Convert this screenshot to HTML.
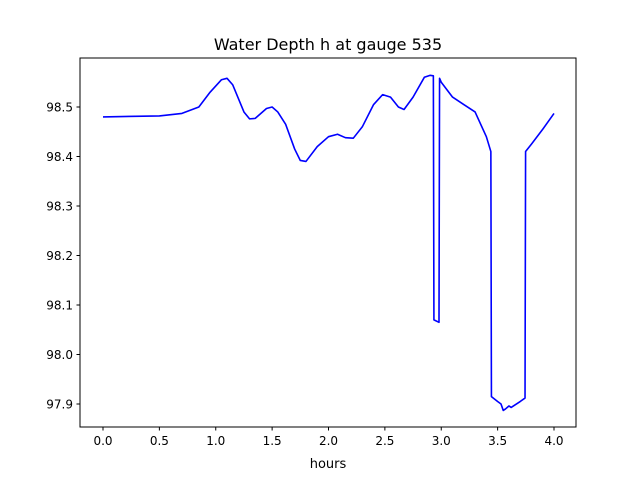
<!DOCTYPE html>
<html><head><meta charset="utf-8"><style>
body{margin:0;background:#fff;}
svg text{font-family:"DejaVu Sans","Liberation Sans",sans-serif;fill:#000;}
</style></head><body>
<svg width="640" height="480">
<rect width="640" height="480" fill="#fff"/>
<text x="328" y="50" font-size="16" text-anchor="middle">Water Depth h at gauge 535</text>
<g id="axes"></g>
<rect x="80" y="58" width="496" height="369" fill="none" stroke="#000" stroke-width="1"/>
<text x="328" y="468" font-size="13" text-anchor="middle">hours</text>
</svg>
<script>
const hours=[0,0.5,0.7,0.85,0.95,1.05,1.1,1.15,1.25,1.3,1.35,1.45,1.5,1.55,1.62,1.7,1.75,1.8,1.9,2.0,2.08,2.15,2.22,2.3,2.4,2.48,2.55,2.62,2.67,2.75,2.85,2.9,2.93,2.935,2.98,2.985,3.0,3.1,3.2,3.3,3.4,3.44,3.445,3.5,3.53,3.55,3.57,3.6,3.62,3.7,3.743,3.748,3.8,3.9,4.0];
const depth=[98.48,98.482,98.487,98.50,98.53,98.555,98.558,98.545,98.49,98.476,98.477,98.497,98.50,98.49,98.465,98.415,98.392,98.39,98.42,98.44,98.445,98.438,98.437,98.46,98.505,98.525,98.52,98.50,98.495,98.52,98.56,98.564,98.563,98.07,98.065,98.558,98.55,98.52,98.505,98.49,98.44,98.41,97.915,97.905,97.9,97.887,97.89,97.896,97.893,97.905,97.912,98.41,98.425,98.455,98.487];
const xTicks=[0,0.5,1.0,1.5,2.0,2.5,3.0,3.5,4.0];
const yTicks=[97.9,98.0,98.1,98.2,98.3,98.4,98.5];
const NS="http://www.w3.org/2000/svg";
const sx=h=>103+h*112.75;
const sy=v=>107+(98.5-v)*495;
const g=document.getElementById('axes');
function mk(t,a){const e=document.createElementNS(NS,t);for(const k in a)e.setAttribute(k,a[k]);g.appendChild(e);return e;}
xTicks.forEach(t=>{
 const l=mk('line',{x1:sx(t),x2:sx(t),y1:427,y2:430.5,stroke:'#000'});
 
 
 const tx=mk('text',{x:sx(t),y:445,'font-size':12,'text-anchor':'middle'});
 tx.textContent=t.toFixed(1);
 
 
});
yTicks.forEach(t=>{
 const l=mk('line',{x1:76.5,x2:80,y1:sy(t),y2:sy(t),stroke:'#000'});
 
 
 const tx=mk('text',{x:73,y:sy(t)+4.5,'font-size':12,'text-anchor':'end'});
 tx.textContent=t.toFixed(1);
 
 
});
const p=mk('polyline',{points:hours.map((h,i)=>sx(h)+','+sy(depth[i])).join(' '),fill:'none',stroke:'#0000ff','stroke-width':1.6,'stroke-linejoin':'round'});


</script>
</body></html>
